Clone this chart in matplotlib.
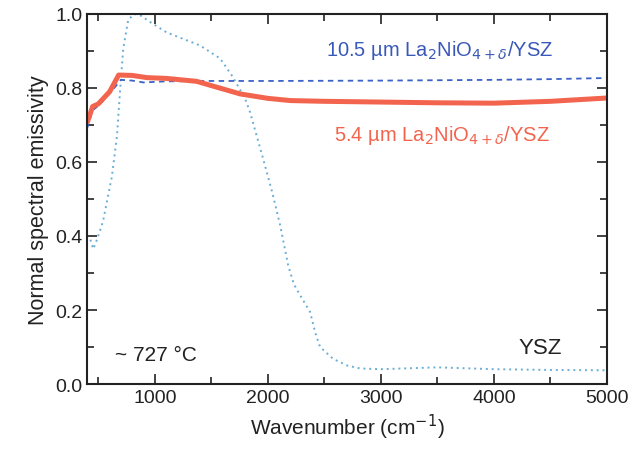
import matplotlib
matplotlib.use("Agg")
import matplotlib.pyplot as plt
from matplotlib.ticker import MultipleLocator

plt.rcParams['font.family'] = ['Liberation Sans', 'DejaVu Sans']

# 5.4 um film (thick red)
thin_x = [400, 450, 500, 600, 680, 800, 930, 1100, 1370, 1550, 1755, 2000, 2200, 2500,
          3000, 3500, 4000, 4500, 5000]
thin_y = [0.705, 0.750, 0.757, 0.790, 0.835, 0.834, 0.828, 0.826, 0.818, 0.802, 0.784,
          0.772, 0.766, 0.764, 0.762, 0.760, 0.759, 0.764, 0.773]

# 10.5 um film (blue dashed)
thick_x = [400, 450, 500, 600, 700, 800, 900, 1100, 1500, 2000, 3000, 4000, 4500, 5000]
thick_y = [0.690, 0.740, 0.752, 0.785, 0.822, 0.820, 0.815, 0.818, 0.819, 0.819, 0.820,
           0.822, 0.824, 0.827]

# bare YSZ (light blue dotted)
ysz_x = [430, 455, 488, 542, 620, 665, 692, 720, 765, 820, 880, 975, 1105, 1400, 1577,
         1690, 1800, 1842, 1957, 2037, 2108, 2180, 2230, 2285, 2373, 2418, 2462, 2577,
         2700, 2815, 3000, 3500, 4000, 4500, 5000]
ysz_y = [0.39, 0.365, 0.39, 0.44, 0.56, 0.67, 0.79, 0.905, 0.985, 1.0, 0.995, 0.975,
         0.95, 0.915, 0.88, 0.83, 0.77, 0.735, 0.61, 0.52, 0.43, 0.32, 0.27, 0.24,
         0.195, 0.14, 0.10, 0.068, 0.05, 0.042, 0.040, 0.045, 0.040, 0.038, 0.037]

fig = plt.figure(figsize=(6.33, 4.52), dpi=100)
ax = fig.add_axes([87 / 633, 1 - 385 / 452, 520 / 633, 370 / 452])

ax.plot(ysz_x, ysz_y, color='#6aaed6', linestyle=(0, (1, 2)), linewidth=1.4)
ax.plot(thick_x, thick_y, color='#3a62c8', linestyle=(0, (3, 2.5)), linewidth=1.3)
ax.plot(thin_x, thin_y, color='#f2644e', linewidth=3.6, solid_capstyle='butt')

ax.set_xlim(400, 5000)
ax.set_ylim(0.0, 1.0)
ax.xaxis.set_major_locator(MultipleLocator(1000))
ax.xaxis.set_minor_locator(MultipleLocator(500))
ax.yaxis.set_major_locator(MultipleLocator(0.2))
ax.yaxis.set_minor_locator(MultipleLocator(0.1))
ax.yaxis.set_major_formatter(matplotlib.ticker.FormatStrFormatter('%.1f'))
ax.tick_params(which='both', direction='in', top=True, right=True, width=1.2,
               color='#222222', labelsize=14, labelcolor='#222222')
ax.tick_params(which='major', length=7)
ax.tick_params(which='minor', length=5)
for s in ax.spines.values():
    s.set_linewidth(1.5)
    s.set_color('#222222')

ax.set_xlabel('Wavenumber (cm$^{-1}$)', fontsize=15, color='#222222')
ax.set_ylabel('Normal spectral emissivity', fontsize=15.5, color='#222222')

ax.text(3520, 0.905, r'10.5 µm La$_2$NiO$_{4+\delta}$/YSZ', color='#3a58b8', fontsize=14.5,
        ha='center', va='center')
ax.text(3540, 0.675, r'5.4 µm La$_2$NiO$_{4+\delta}$/YSZ', color='#f2644e', fontsize=14.5,
        ha='center', va='center')
ax.text(650, 0.08, '~ 727 °C', color='#222222', fontsize=15, va='center')
ax.text(4600, 0.10, 'YSZ', color='#222222', fontsize=16, ha='right', va='center')

fig.savefig('out.png', dpi=100)
